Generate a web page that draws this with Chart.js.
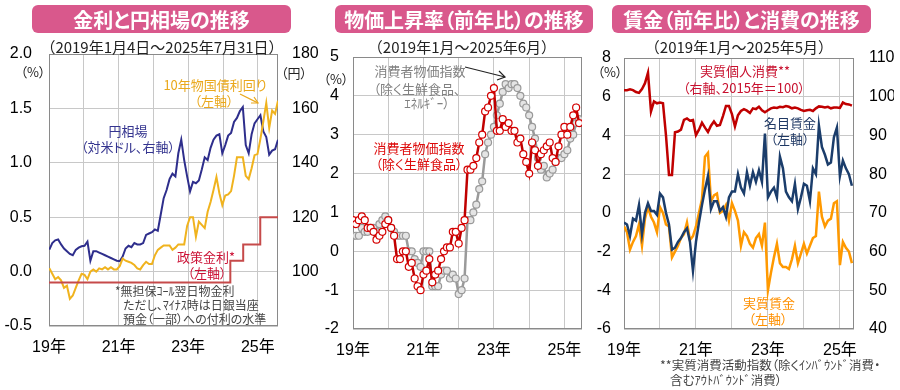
<!DOCTYPE html>
<html>
<head>
<meta charset="utf-8">
<script src="https://cdn.jsdelivr.net/npm/chart.js@4.4.1/dist/chart.umd.min.js"></script>
<style>
  body { margin: 0; width: 900px; height: 390px; overflow: hidden; position: relative; background: #fff;
         font-family: "Noto Sans CJK JP", sans-serif; }
  canvas { position: absolute; left: 0; top: 0; }
  .ttl { position: absolute; top: 5px; height: 28px; background: #d9588c; border-radius: 6px; color: #fff;
         font-weight: bold; font-size: 20px; display: flex; align-items: center; justify-content: center;
         font-feature-settings: "palt"; }
  .t { position: absolute; white-space: nowrap; line-height: 1; transform: translate(-50%, -50%);
       font-size: 13px; font-feature-settings: "palt"; }
  .s { position: absolute; white-space: nowrap; line-height: 1; transform: translate(-50%, -50%);
       font-size: 15px; color: #222; }
  .l { position: absolute; white-space: nowrap; line-height: 1; transform: translateY(-50%);
       font-size: 12px; color: #444; font-feature-settings: "palt"; }
  svg { position: absolute; left: 0; top: 0; }
</style>
</head>
<body>
<canvas id="c1" width="900" height="390"></canvas>
<canvas id="c2" width="900" height="390"></canvas>
<canvas id="c3" width="900" height="390"></canvas>

<div class="ttl" style="left:32px;width:259px">金利と円相場の推移</div>
<div class="ttl" style="left:335px;width:258px">物価上昇率（前年比）の推移</div>
<div class="ttl" style="left:612px;width:259px">賃金（前年比）と消費の推移</div>

<div class="s" style="left:162px;top:46px">（2019年1月4日～2025年7月31日）</div>
<div class="s" style="left:462px;top:46px">（2019年1月～2025年6月）</div>
<div class="s" style="left:739px;top:46px">（2019年1月～2025年5月）</div>

<!-- unit labels -->
<div class="t" style="left:33px;top:71px;color:#222">（%）</div>
<div class="t" style="left:294px;top:72px;color:#222">（円）</div>
<div class="t" style="left:336px;top:78px;color:#222">（%）</div>
<div class="t" style="left:610px;top:71px;color:#222">（%）</div>

<!-- panel 1 notes -->
<div class="t" style="left:215px;top:84px;color:#eaa81c">10年物国債利回り</div>
<div class="t" style="left:214px;top:100px;color:#eaa81c">（左軸）</div>
<div class="t" style="left:128px;top:130px;color:#34348f">円相場</div>
<div class="t" style="left:128px;top:146px;color:#34348f">（対米ドル、右軸）</div>
<div class="t" style="left:206px;top:256px;color:#cc1236">政策金利*</div>
<div class="t" style="left:207px;top:272px;color:#cc1236">（左軸）</div>
<div class="l" style="left:115px;top:291px">*無担保ｺｰﾙ翌日物金利</div>
<div class="l" style="left:123px;top:305px">ただし、ﾏｲﾅｽ時は日銀当座</div>
<div class="l" style="left:123px;top:319px">預金（一部）への付利の水準</div>

<!-- panel 2 notes -->
<div class="t" style="left:420px;top:70px;color:#808080">消費者物価指数</div>
<div class="t" style="left:417px;top:88px;color:#808080">（除く生鮮食品、</div>
<div class="t" style="left:427px;top:102px;color:#808080">ｴﾈﾙｷﾞｰ）</div>
<div class="t" style="left:419px;top:147px;color:#dd0a0a">消費者物価指数</div>
<div class="t" style="left:419px;top:163px;color:#dd0a0a">（除く生鮮食品）</div>

<!-- panel 3 notes -->
<div class="t" style="left:745px;top:70px;color:#c8102e">実質個人消費**</div>
<div class="t" style="left:744px;top:87px;color:#c8102e">（右軸、2015年＝100）</div>
<div class="t" style="left:790px;top:122px;color:#1f3864">名目賃金</div>
<div class="t" style="left:790px;top:138px;color:#1f3864">（左軸）</div>
<div class="t" style="left:769px;top:302px;color:#ff9000">実質賃金</div>
<div class="t" style="left:768px;top:318px;color:#ff9000">（左軸）</div>
<div class="l" style="left:660px;top:365px;font-size:12.5px">**実質消費活動指数（除くｲﾝﾊﾞｳﾝﾄﾞ消費・</div>
<div class="l" style="left:670px;top:380px;font-size:12.5px">含むｱｳﾄﾊﾞｳﾝﾄﾞ消費）</div>

<svg width="900" height="390">
  <line x1="240" y1="94" x2="258" y2="103" stroke="#eaa81c" stroke-width="1.2"/>
  <polyline points="251,103 258,103 254,97" fill="none" stroke="#eaa81c" stroke-width="1.2"/>
  <line x1="465" y1="67" x2="505" y2="77" stroke="#222" stroke-width="1.2"/>
  <polyline points="497,80 505,77 499,71" fill="none" stroke="#222" stroke-width="1.2"/>
</svg>

<script>
// ---- panel 1: JGB 10y yield (%), USD/JPY, policy rate (Jan 4 2019 - Jul 31 2025, monthly) ----
const yenRate = [
  108.1, 110.5, 111.5, 111.8, 110.0, 108.5, 107.5, 106.5, 106.0, 108.0, 108.8, 109.3,
  109.5, 111.0, 104.0, 107.5, 107.5, 107.0, 106.5, 106.0, 105.5, 105.0, 104.5, 104.0,
  103.8, 105.5, 108.5, 109.5, 109.0, 110.5, 110.0, 110.0, 110.5, 113.5, 114.0, 114.5,
  115.5, 115.0, 121.0, 127.0, 130.0, 134.0, 136.0, 135.0, 143.5, 148.5, 141.0, 135.0,
  129.5, 133.0, 132.5, 133.5, 137.5, 142.0, 141.0, 145.5, 148.5, 150.0, 150.5, 143.5,
  146.5, 150.0, 151.0, 155.0, 156.5, 159.0, 160.5, 146.5, 143.5, 150.5, 154.5, 156.0,
  157.5, 151.5, 149.5, 143.0, 144.5, 145.0, 148.5
];
const jgbYield = [
  0.03, -0.02, -0.07, -0.05, -0.08, -0.15, -0.13, -0.25, -0.22, -0.15, -0.08, -0.02,
  -0.03, -0.07, 0.00, 0.02, 0.00, 0.03, 0.02, 0.04, 0.02, 0.04, 0.02, 0.02,
  0.05, 0.12, 0.10, 0.09, 0.08, 0.06, 0.03, 0.02, 0.06, 0.09, 0.07, 0.07,
  0.15, 0.20, 0.22, 0.24, 0.24, 0.24, 0.20, 0.22, 0.25, 0.25, 0.25, 0.42,
  0.50, 0.50, 0.32, 0.46, 0.43, 0.40, 0.55, 0.64, 0.75, 0.87, 0.72, 0.61,
  0.70, 0.71, 0.74, 0.88, 1.05, 1.05, 1.05, 0.88, 0.85, 0.95, 1.07, 1.08,
  1.22, 1.38, 1.55, 1.32, 1.48, 1.45, 1.57
];
const policyDates = [2019.0, 2024.21, 2024.58, 2025.07, 2025.58];
const policyRate = [-0.1, 0.1, 0.25, 0.5, 0.5];

// ---- panel 2: CPI y/y (%), Jan 2019 - Jun 2025 ----
const cpiCore = [
  0.8, 0.7, 0.8, 0.9, 0.8, 0.6, 0.6, 0.5, 0.3, 0.4, 0.5, 0.7,
  0.8, 0.6, 0.4, -0.2, -0.2, 0.0, 0.0, -0.4, -0.3, -0.7, -0.9, -1.0,
  -0.6, -0.5, -0.2, -0.8, -0.6, -0.5, -0.2, 0.0, 0.1, 0.1, 0.5, 0.5,
  0.2, 0.6, 0.8, 2.1, 2.1, 2.2, 2.4, 2.8, 3.0, 3.6, 3.7, 4.0,
  4.2, 3.1, 3.1, 3.4, 3.2, 3.3, 3.1, 3.1, 2.8, 2.9, 2.5, 2.3,
  2.0, 2.8, 2.6, 2.2, 2.5, 2.6, 2.7, 2.8, 2.4, 2.3, 2.7, 3.0,
  3.2, 3.0, 3.2, 3.5, 3.7, 3.3
];
const cpiCoreCore = [
  0.4, 0.4, 0.4, 0.6, 0.5, 0.5, 0.6, 0.6, 0.5, 0.7, 0.8, 0.9,
  0.8, 0.6, 0.5, 0.4, 0.4, 0.4, 0.4, 0.0, 0.0, -0.2, -0.3, -0.4,
  0.0, 0.0, 0.0, -0.9, -0.9, -0.9, -0.6, -0.5, -0.5, -0.7, -0.6, -0.7,
  -1.1, -1.0, -0.7, 0.8, 0.8, 1.0, 1.2, 1.6, 1.8, 2.5, 2.8, 3.0,
  3.2, 3.5, 3.8, 4.1, 4.3, 4.2, 4.3, 4.3, 4.2, 4.0, 3.8, 3.7,
  3.5, 3.2, 2.9, 2.4, 2.1, 2.2, 1.9, 2.0, 2.1, 2.3, 2.4, 2.4,
  2.5, 2.6, 2.9, 3.0, 3.3, 3.4
];

// ---- panel 3: wages y/y (%), real consumption index (2015=100), Jan 2019 - May 2025 ----
const nominalWage = [
  -0.5, -0.6, -1.2, -0.3, -0.4, 0.4, -1.1, 0.0, 0.5, 0.1, 0.1, -0.1,
  1.0, 0.8, 0.0, -0.6, -1.9, -1.8, -1.5, -1.3, -1.0, -0.8, -1.5, -3.0,
  -1.5, -0.5, 0.4, 1.2, 1.9, 0.2, 0.6, 0.6, 0.1, 0.3, -0.2, 0.8,
  1.1, 1.1, 2.0, 1.3, 1.0, 2.1, 1.4, 2.1, 1.6, 2.2, 1.6, 4.1,
  0.8, 1.1, 1.3, 0.8, 2.9, 2.3, 1.1, 0.8, 0.6, 1.5, 0.2, 0.8,
  1.5, 1.4, 0.6, 2.3, 2.0, 4.5, 3.4, 3.0, 2.5, 2.6, 3.9, 4.4,
  1.9, 2.7, 2.3, 2.0, 1.4
];
const realWage = [
  -0.7, -1.0, -1.9, -1.5, -1.2, -0.6, -1.7, -0.3, 0.3, -0.2, -0.5, -1.0,
  0.3, 0.0, -0.6, -0.7, -2.3, -2.0, -1.7, -1.3, -1.1, -0.5, -1.4, -1.2,
  -0.7, 0.0, 0.7, 2.9, 3.1, 0.6, 0.9, 1.0, 0.0, 0.1, 0.4, -0.4,
  0.5, 0.1, -0.4, -1.7, -1.0, -1.2, -1.6, -1.8, -1.3, -1.1, -1.7, -0.5,
  -4.0, -3.1, -2.3, -1.6, -2.6, -2.8, -2.8, -2.9, -2.4, -1.7, -2.6, -2.1,
  -1.6, -2.1, -1.7, -1.3, -1.2, 1.1, -0.2, -0.7, -0.4, -0.3, 0.5, 0.6,
  -2.7, -1.5, -1.8, -2.0, -2.6
];
const realConsumption = [
  101.7, 101.7, 101.9, 101.7, 101.2, 101.0, 102.0, 103.5, 106.2, 96.2, 98.8, 98.3,
  98.5, 98.3, 90.0, 79.8, 79.8, 90.8, 91.0, 91.5, 94.0, 94.4, 93.8, 94.0,
  90.1, 91.5, 93.3, 92.0, 90.9, 92.5, 93.6, 92.5, 92.7, 95.0, 97.6, 97.6,
  95.5, 92.3, 95.2, 96.3, 96.8, 96.4, 95.8, 97.0, 96.8, 97.4, 96.5, 96.0,
  96.5, 97.0, 97.2, 97.1, 97.4, 97.3, 97.6, 97.4, 97.0, 97.2, 97.0, 96.6,
  96.3, 96.5, 96.6, 96.3, 97.0, 97.5, 97.4, 97.2, 97.4, 97.0, 97.2, 97.2,
  97.1, 98.5, 98.1, 98.0, 97.7
];
const yearTicks = [2019, 2020, 2021, 2022, 2023, 2024, 2025];

// helpers
const series = (vals, start, step) => vals.map((v, i) => ({ x: start + i * step, y: v }));
const pairs = (xs, ys) => xs.map((x, i) => ({ x: x, y: ys[i] }));

const tickFont = { family: '"Liberation Sans", Arial, "Noto Sans CJK JP"', size: 16 };
const gridColor = '#c8c8c8';

const framePlugin = {
  id: 'frame',
  beforeDatasetsDraw(chart) {
    const a = chart.chartArea, ctx = chart.ctx;
    ctx.save();
    ctx.strokeStyle = '#8a8a8a';
    ctx.lineWidth = 1;
    ctx.strokeRect(a.left + 0.5, a.top + 0.5, a.right - a.left - 1, a.bottom - a.top - 1);
    ctx.restore();
  }
};

function xAxis(max) {
  return {
    type: 'linear', min: 2019, max: max,
    grid: { color: gridColor, drawTicks: false },
    border: { display: false },
    afterBuildTicks: s => { s.ticks = yearTicks.map(v => ({ value: v })); },
    ticks: {
      autoSkip: false, maxRotation: 0, padding: 12, color: '#000', font: tickFont,
      callback: v => (v % 2 === 1) ? String(v).slice(2) + '年' : ''
    },
    afterFit: s => { s.height = 30; }
  };
}
function yAxis(pos, min, max, step, pad, width, fmt, grid) {
  return {
    position: pos, min: min, max: max,
    grid: grid ? { color: gridColor, drawTicks: false } : { display: false, drawTicks: false },
    border: { display: false },
    ticks: { stepSize: step, padding: pad, color: '#000', font: tickFont, callback: fmt },
    afterFit: s => { s.width = width; }
  };
}

const baseOpts = (padding) => ({
  responsive: false, animation: false, devicePixelRatio: 1,
  layout: { padding: padding },
  plugins: { legend: { display: false }, tooltip: { enabled: false } },
  elements: { point: { radius: 0 }, line: { tension: 0 } }
});

// panel 1
const p1Start = 2019.01, p1End = 2025.58;
const p1Step = (p1End - p1Start) / (yenRate.length - 1);
new Chart(document.getElementById('c1'), {
  type: 'line',
  data: {
    datasets: [
      { data: pairs(policyDates, policyRate), borderColor: '#c64a4a', borderWidth: 2, stepped: true, yAxisID: 'y' },
      { data: series(jgbYield, p1Start, p1Step), borderColor: '#f0b31e', borderWidth: 2, yAxisID: 'y' },
      { data: series(yenRate, p1Start, p1Step), borderColor: '#2e2e8c', borderWidth: 2, yAxisID: 'y1' }
    ]
  },
  options: Object.assign(baseOpts({ left: 0, right: 582, top: 54, bottom: 34 }), {
    scales: {
      x: xAxis(p1End),
      y: yAxis('left', -0.5, 2.0, 0.5, 17, 49, v => v.toFixed(1), true),
      y1: yAxis('right', 80, 180, 20, 14, 40, v => v === 80 ? '' : v, false)
    }
  }),
  plugins: [framePlugin]
});

// panel 2
const m = 1 / 12;
new Chart(document.getElementById('c2'), {
  type: 'line',
  data: {
    datasets: [
      { data: series(cpiCore, 2019, m), borderColor: '#c00000', borderWidth: 2.5,
        pointRadius: 3.5, pointBorderWidth: 1.2, pointBackgroundColor: '#fff', pointBorderColor: '#d40000' },
      { data: series(cpiCoreCore, 2019, m), borderColor: '#9a9a9a', borderWidth: 2.5,
        pointRadius: 3.5, pointBorderWidth: 1.2, pointBackgroundColor: '#e4e4e4', pointBorderColor: '#999' }
    ]
  },
  options: Object.assign(baseOpts({ left: 303, right: 318, top: 57, bottom: 31 }), {
    scales: {
      x: xAxis(2019 + 78 / 12),
      y: yAxis('left', -2, 5, 1, 14, 50, v => v, true)
    }
  }),
  plugins: [framePlugin]
});

// panel 3
new Chart(document.getElementById('c3'), {
  type: 'line',
  data: {
    datasets: [
      { data: series(realConsumption, 2019, m), borderColor: '#c00000', borderWidth: 2.5, yAxisID: 'y1' },
      { data: series(nominalWage, 2019, m), borderColor: '#1b3d6b', borderWidth: 2.5, yAxisID: 'y' },
      { data: series(realWage, 2019, m), borderColor: '#ff9900', borderWidth: 2.5, yAxisID: 'y' }
    ]
  },
  options: Object.assign(baseOpts({ left: 584, right: 6, top: 58, bottom: 31 }), {
    scales: {
      x: xAxis(2019 + 76.7 / 12),
      y: yAxis('left', -6, 8, 2, 13, 40, v => v, true),
      y1: yAxis('right', 40, 110, 10, 15, 40, v => v, false)
    }
  }),
  plugins: [framePlugin]
});
</script>
</body>
</html>
